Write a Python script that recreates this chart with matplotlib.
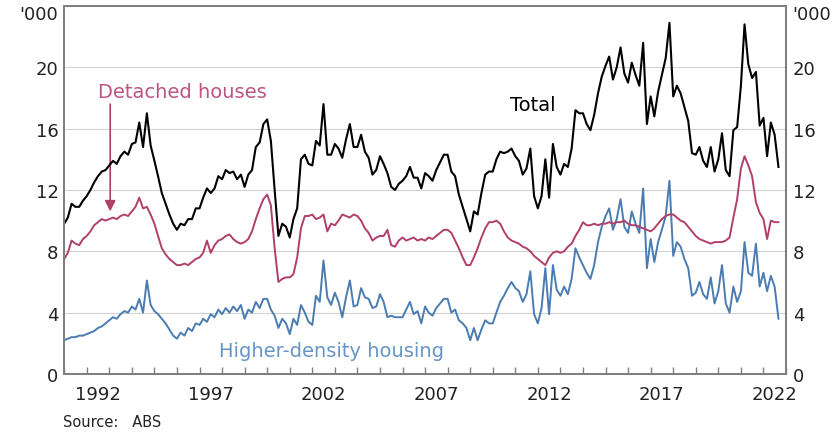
import matplotlib
matplotlib.use('Agg')
import matplotlib.pyplot as plt
import matplotlib.dates as mdates
import matplotlib.ticker as mticker
import matplotlib.transforms as mtransforms
import pandas as pd

# dwelling approvals, '000 per month, read every second month from Jan 1991
total = [
    9.8, 10.2, 11.1, 10.9, 10.9, 11.3,    # 1991
    11.6, 12.0, 12.5, 12.9, 13.2, 13.3,
    13.6, 13.9, 13.7, 14.2, 14.5, 14.3,
    15.0, 15.1, 16.4, 14.8, 17.0, 14.9,
    13.9, 12.9, 11.8, 11.1, 10.4, 9.8,    # 1995
    9.4, 9.8, 9.7, 10.1, 10.1, 10.8,
    10.8, 11.5, 12.1, 11.8, 12.1, 12.9,
    12.7, 13.3, 13.1, 13.2, 12.7, 13.0,
    12.2, 13.0, 13.3, 14.8, 15.1, 16.3,
    16.6, 15.2, 12.0, 9.0, 9.8, 9.6,      # 2000
    8.9, 10.1, 10.8, 14.0, 14.3, 13.7,
    13.6, 15.2, 14.9, 17.6, 14.3, 14.3,
    15.0, 14.7, 14.1, 15.3, 16.3, 14.8,
    14.8, 15.6, 14.5, 14.1, 13.0, 13.3,
    14.2, 13.7, 13.1, 12.2, 12.0, 12.4,   # 2005
    12.6, 12.9, 13.5, 12.8, 12.8, 12.1,
    13.1, 12.9, 12.6, 13.3, 13.8, 14.3,
    14.3, 13.2, 12.9, 11.7, 10.9, 10.1,
    9.3, 10.6, 10.4, 11.8, 13.0, 13.2,
    13.2, 14.0, 14.5, 14.4, 14.5, 14.7,   # 2010
    14.2, 13.9, 13.0, 13.4, 14.7, 11.6,
    10.8, 11.6, 14.0, 11.5, 15.0, 13.5,
    13.0, 13.7, 13.5, 14.7, 17.2, 17.0,
    17.0, 16.3, 15.9, 16.9, 18.3, 19.4,
    20.1, 20.7, 19.2, 20.0, 21.3, 19.6,   # 2015
    19.0, 20.3, 19.5, 18.8, 21.6, 16.3,
    18.1, 16.8, 18.4, 19.5, 20.6, 22.9,
    18.1, 18.8, 18.3, 17.4, 16.5, 14.4,
    14.3, 14.8, 13.9, 13.5, 14.8, 13.2,
    14.0, 15.7, 13.3, 12.9, 15.9, 16.1,   # 2020
    18.8, 22.8, 20.2, 19.3, 19.7, 16.2,
    16.7, 14.2, 16.4, 15.6, 13.5,
]
detached = [
    7.5, 7.9, 8.7, 8.5, 8.4, 8.8,         # 1991
    9.0, 9.3, 9.7, 9.9, 10.1, 10.0,
    10.1, 10.2, 10.1, 10.3, 10.4, 10.3,
    10.6, 10.9, 11.5, 10.8, 10.9, 10.4,
    9.8, 9.0, 8.2, 7.8, 7.5, 7.3,         # 1995
    7.1, 7.1, 7.2, 7.1, 7.3, 7.5,
    7.6, 7.9, 8.7, 7.9, 8.4, 8.7,
    8.8, 9.0, 9.1, 8.8, 8.6, 8.5,
    8.6, 8.8, 9.3, 10.1, 10.8, 11.4,
    11.7, 11.0, 8.2, 6.0, 6.2, 6.3,       # 2000
    6.3, 6.5, 7.6, 9.5, 10.3, 10.3,
    10.4, 10.1, 10.2, 10.4, 9.3, 9.8,
    9.7, 10.0, 10.4, 10.3, 10.2, 10.4,
    10.3, 10.0, 9.5, 9.2, 8.7, 8.9,
    9.0, 9.0, 9.4, 8.4, 8.3, 8.7,         # 2005
    8.9, 8.7, 8.8, 8.9, 8.7, 8.8,
    8.7, 8.9, 8.8, 9.0, 9.2, 9.4,
    9.4, 9.2, 8.7, 8.2, 7.6, 7.1,
    7.1, 7.6, 8.2, 8.9, 9.5, 9.9,
    9.9, 10.0, 9.8, 9.3, 8.9, 8.7,        # 2010
    8.6, 8.5, 8.3, 8.2, 8.0, 7.7,
    7.5, 7.3, 7.1, 7.6, 7.9, 8.0,
    7.9, 8.0, 8.3, 8.5, 9.0, 9.4,
    9.9, 9.7, 9.7, 9.8, 9.7, 9.8,
    9.8, 9.9, 9.8, 9.9, 9.9, 10.0,        # 2015
    9.8, 9.7, 9.7, 9.6, 9.5, 9.4,
    9.3, 9.5, 9.8, 10.1, 10.3, 10.4,
    10.4, 10.2, 10.0, 9.9, 9.6, 9.3,
    9.0, 8.8, 8.7, 8.6, 8.5, 8.6,
    8.6, 8.6, 8.7, 8.9, 10.2, 11.4,       # 2020
    13.4, 14.2, 13.6, 12.9, 11.2, 10.5,
    10.1, 8.8, 10.0, 9.9, 9.9,
]
higher_density = [
    2.2, 2.3, 2.4, 2.4, 2.5, 2.5,         # 1991
    2.6, 2.7, 2.8, 3.0, 3.1, 3.3,
    3.5, 3.7, 3.6, 3.9, 4.1, 4.0,
    4.4, 4.2, 4.9, 4.0, 6.1, 4.5,
    4.1, 3.9, 3.6, 3.3, 2.9, 2.5,         # 1995
    2.3, 2.7, 2.5, 3.0, 2.8, 3.3,
    3.2, 3.6, 3.4, 3.9, 3.7, 4.2,
    3.9, 4.3, 4.0, 4.4, 4.1, 4.5,
    3.6, 4.2, 4.0, 4.7, 4.3, 4.9,
    4.9, 4.2, 3.8, 3.0, 3.6, 3.3,         # 2000
    2.6, 3.6, 3.2, 4.5, 4.0, 3.4,
    3.2, 5.1, 4.7, 7.4, 5.0, 4.5,
    5.3, 4.7, 3.7, 5.0, 6.1, 4.4,
    4.5, 5.6, 5.0, 4.9, 4.3, 4.4,
    5.2, 4.7, 3.7, 3.8, 3.7, 3.7,         # 2005
    3.7, 4.2, 4.7, 3.9, 4.1, 3.3,
    4.4, 4.0, 3.8, 4.3, 4.6, 4.9,
    4.9, 4.0, 4.2, 3.5, 3.3, 3.0,
    2.2, 3.0, 2.2, 2.9, 3.5, 3.3,
    3.3, 4.0, 4.7, 5.1, 5.6, 6.0,         # 2010
    5.6, 5.4, 4.7, 5.2, 6.7, 3.9,
    3.3, 4.3, 6.9, 3.9, 7.1, 5.5,
    5.1, 5.7, 5.2, 6.2, 8.2, 7.6,
    7.1, 6.6, 6.2, 7.1, 8.6, 9.6,
    10.3, 10.8, 9.4, 10.1, 11.4, 9.6,     # 2015
    9.2, 10.6, 9.8, 9.2, 12.1, 6.9,
    8.8, 7.3, 8.6, 9.4, 10.3, 12.6,
    7.7, 8.6, 8.3, 7.5, 6.9, 5.1,
    5.3, 6.0, 5.2, 4.9, 6.3, 4.6,
    5.4, 7.1, 4.6, 4.0, 5.7, 4.7,         # 2020
    5.4, 8.6, 6.6, 6.4, 8.5, 5.7,
    6.6, 5.4, 6.4, 5.7, 3.6,
]

label_years = [1992, 1997, 2002, 2007, 2012, 2017, 2022]
y_ticks = [0, 4, 8, 12, 16, 20]

COL_TOTAL = '#000000'
COL_DET = '#b03f6a'
COL_DET_TXT = '#bd5482'
COL_HD = '#4a7cb2'
COL_HD_TXT = '#6795c6'
FRAME = '#808080'
GRID = '#d2d2d2'


def draw():
    dates = pd.date_range('1991-01-01', periods=len(total), freq='2MS')

    fig = plt.figure(figsize=(8.4, 4.35), dpi=100)
    ax = fig.add_axes([0.0764, 0.138, 0.8593, 0.846])

    ax.plot(dates, higher_density, color=COL_HD, lw=1.4, zorder=3)
    ax.plot(dates, detached, color=COL_DET, lw=1.4, zorder=4)
    ax.plot(dates, total, color=COL_TOTAL, lw=1.5, zorder=5)

    ax.set_xlim(pd.Timestamp('1991-01-01'), pd.Timestamp('2023-01-01'))
    ax.set_ylim(0, 24)

    # y axis: gridlines, labels both sides, no tick marks
    ax.set_yticks(y_ticks)
    ax.grid(axis='y', color=GRID, lw=0.8)
    ax.set_axisbelow(True)
    ax.tick_params(axis='y', length=0, pad=4, labelsize=13, labelcolor='#222222')
    ax2 = ax.twinx()
    ax2.set_ylim(0, 24)
    ax2.set_yticks(y_ticks)
    ax2.tick_params(axis='y', length=0, pad=5, labelsize=13, labelcolor='#222222')

    # x axis: ticks at year start, labels centred on mid-year
    ax.xaxis.set_major_locator(mdates.YearLocator(1))
    ax.xaxis.set_major_formatter(mticker.NullFormatter())
    mids = [mdates.date2num(pd.Timestamp(f'{y}-07-02')) for y in label_years]
    ax.xaxis.set_minor_locator(mticker.FixedLocator(mids))
    ax.xaxis.set_minor_formatter(mticker.FixedFormatter([str(y) for y in label_years]))
    ax.tick_params(axis='x', which='major', direction='in', length=5, width=1, color=FRAME)
    ax.tick_params(axis='x', which='minor', length=0, pad=8, labelsize=13, labelcolor='#222222')

    for a in (ax, ax2):
        for s in a.spines.values():
            s.set_color(FRAME)
            s.set_linewidth(1.4)

    trans = mtransforms.blended_transform_factory(ax.transAxes, ax.transData)
    ax.text(-0.008, 23.5, "'000", transform=trans, ha='right', va='center',
            fontsize=13, color='#222222')
    ax.text(1.008, 23.5, "'000", transform=trans, ha='left', va='center',
            fontsize=13, color='#222222')

    # series labels
    ax.text(pd.Timestamp('1996-04-01'), 18.4, 'Detached houses', color=COL_DET_TXT,
            fontsize=14, ha='center', va='center')
    ax.annotate('', xy=(pd.Timestamp('1993-01-15'), 10.6),
                xytext=(pd.Timestamp('1993-01-15'), 17.6),
                arrowprops=dict(arrowstyle='-|>', color=COL_DET, lw=1.2,
                                mutation_scale=16, shrinkA=0, shrinkB=0))
    ax.text(pd.Timestamp('2011-10-15'), 17.6, 'Total', color='black',
            fontsize=14, ha='center', va='center')
    ax.text(pd.Timestamp('2002-11-15'), 1.5, 'Higher-density housing', color=COL_HD_TXT,
            fontsize=14, ha='center', va='center')

    fig.text(63 / 840, 1 - 423 / 435, 'Source:   ABS', fontsize=10.5,
             color='#222222', va='center', ha='left')

    fig.savefig('out.png', dpi=100)


if __name__ == '__main__':
    draw()
